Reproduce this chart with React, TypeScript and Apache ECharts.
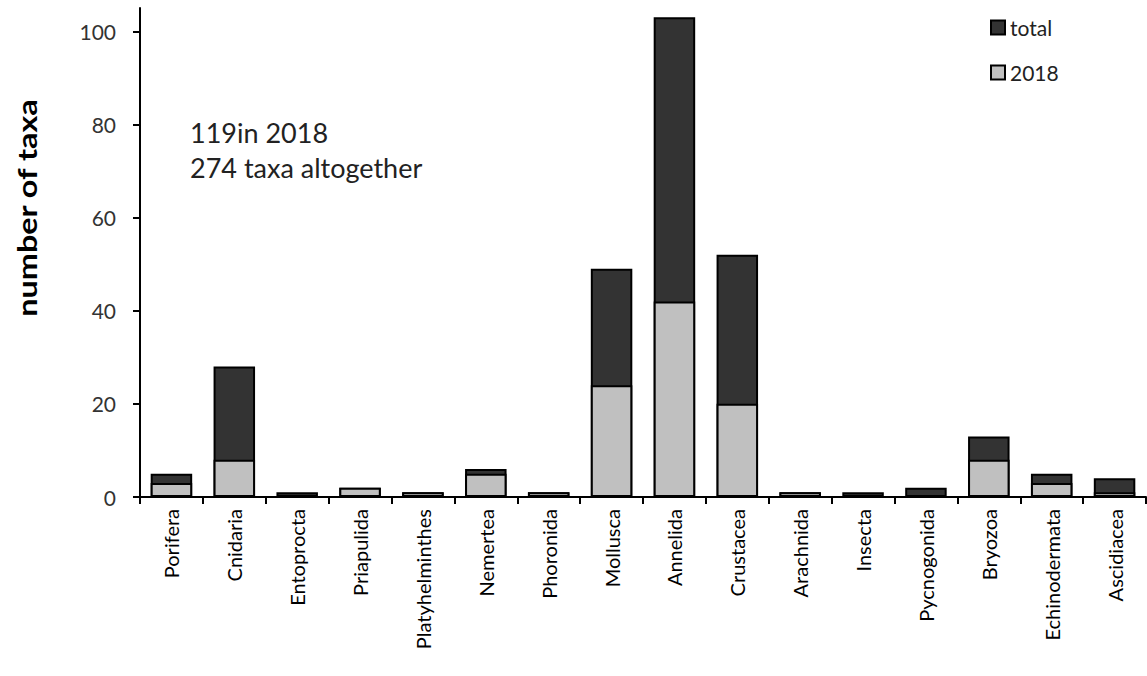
import React, { useEffect, useRef } from "react";
import * as echarts from "echarts";

const categories = [
  "Porifera", "Cnidaria", "Entoprocta", "Priapulida", "Platyhelminthes", "Nemertea",
  "Phoronida", "Mollusca", "Annelida", "Crustacea", "Arachnida", "Insecta",
  "Pycnogonida", "Bryozoa", "Echinodermata", "Ascidiacea",
];
const totalValues = [5, 28, 1, 2, 1, 6, 1, 49, 103, 52, 1, 1, 2, 13, 5, 4];
const values2018 = [3, 8, 0, 2, 1, 5, 1, 24, 42, 20, 1, 0, 0, 8, 3, 1];
const yTicks = [0, 20, 40, 60, 80, 100];
const noteLines = ["119in 2018", "274 taxa altogether"];
const yTitle = "number of taxa";

const FONT = "Lato, 'Open Sans', sans-serif";

export default function App() {
  const ref = useRef<HTMLDivElement>(null);
  useEffect(() => {
    document.body.style.margin = "0";
    if (!ref.current) return;
    const chart = echarts.init(ref.current, null, { renderer: "svg" });
    chart.setOption({
      animation: false,
      textStyle: { fontFamily: FONT },
      grid: { left: 140, right: 1, top: 8, bottom: 179, containLabel: false },
      legend: {
        orient: "vertical",
        left: 985,
        top: 12,
        itemWidth: 14,
        itemHeight: 14,
        itemGap: 24,
        icon: "rect",
        textStyle: { fontSize: 21, color: "#222", fontFamily: FONT },
        data: ["total", "2018"],
      },
      xAxis: {
        type: "category",
        data: categories,
        axisLine: { lineStyle: { color: "#000", width: 2 } },
        axisTick: { show: true, length: 7, lineStyle: { color: "#000", width: 2 } },
        axisLabel: {
          rotate: 90,
          margin: 12,
          fontSize: 20,
          color: "#000",
          fontFamily: FONT,
          interval: 0,
        },
      },
      yAxis: {
        type: "value",
        min: 0,
        max: 105,
        interval: 20,
        splitLine: { show: false },
        axisLine: { show: true, lineStyle: { color: "#000", width: 2 } },
        axisTick: { show: true, length: 7, lineStyle: { color: "#000", width: 2 }, customValues: yTicks },
        axisLabel: { fontSize: 21, color: "#333", margin: 24, fontFamily: FONT, customValues: yTicks },
      },
      graphic: [
        ...noteLines.map((t, i) => ({
          type: "text",
          left: 190,
          top: 119 + i * 35,
          style: { text: t, fontSize: 27, fill: "#222", fontFamily: FONT },
        })),
        {
          type: "text",
          x: 27,
          y: 208,
          rotation: Math.PI / 2,
          scaleX: 1.2,
          style: {
            text: yTitle,
            fontSize: 27,
            fontWeight: "bold",
            fill: "#000",
            fontFamily: FONT,
            textAlign: "center",
            textVerticalAlign: "middle",
          },
        },
      ],
      series: [
        {
          name: "total",
          type: "bar",
          data: totalValues,
          barWidth: "66%",
          barGap: "-100%",
          itemStyle: { color: "#333333", borderColor: "#000", borderWidth: 2 },
        },
        {
          name: "2018",
          type: "bar",
          data: values2018,
          barWidth: "66%",
          barGap: "-100%",
          itemStyle: { color: "#c0c0c0", borderColor: "#000", borderWidth: 2 },
        },
      ],
    });
    return () => chart.dispose();
  }, []);
  return <div ref={ref} style={{ width: 1147, height: 676 }} />;
}
